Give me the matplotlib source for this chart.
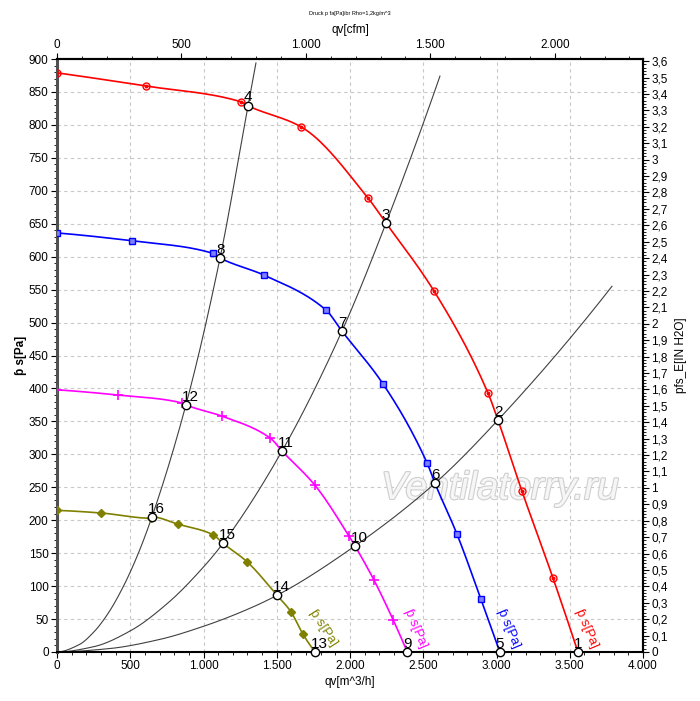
import numpy as np
import matplotlib
matplotlib.use("Agg")
import matplotlib.pyplot as plt
import matplotlib.patheffects as pe
from matplotlib.ticker import FuncFormatter, MultipleLocator

plt.rcParams['font.family'] = ['Liberation Sans', 'DejaVu Sans']

# ---------------- data ----------------
# fan curves: measured markers (flow m^3/h, pressure Pa)
red_mx = [0, 607, 1256, 1666, 2123, 2573, 2942, 3174, 3386]
red_my = [879, 859, 835, 797, 689, 548, 393, 244, 112]
blue_mx = [0, 512, 1065, 1413, 1836, 2225, 2526, 2730, 2894]
blue_my = [636, 624, 605, 572, 519, 407, 287, 179, 80]
mag_mx = [0, 416, 853, 1126, 1454, 1761, 1993, 2164, 2294]
mag_my = [398, 390, 378, 358, 325, 253, 176, 109, 49]
oli_mx = [0, 300, 642, 826, 1065, 1297, 1597, 1679]
oli_my = [215, 211, 203, 194, 178, 137, 61, 27]

# operating points (number, flow, pressure)
op_num = [1, 2, 3, 4, 5, 6, 7, 8, 9, 10, 11, 12, 13, 14, 15, 16]
op_x = [3556, 3010, 2246, 1304, 3023, 2580, 1945, 1113, 2391, 2034, 1536, 880, 1762, 1502, 1133, 648]
op_y = [0, 352, 651, 829, 0, 256, 487, 598, 0, 161, 305, 375, 0, 86, 165, 205]

# system resistance curves
sysA_x = [0, 150, 250, 350, 454, 550, 648, 880, 1113, 1304, 1358]
sysA_y = [0, 11, 30, 59, 100, 147, 205, 375, 598, 829, 894]
sysB_x = [0, 250, 500, 750, 1000, 1133, 1536, 1945, 2246, 2614]
sysB_y = [0, 8, 32, 73, 129, 165, 305, 487, 651, 874]
sysC_x = [0, 350, 700, 1000, 1250, 1502, 2034, 2580, 3010, 3788]
sysC_y = [0, 5, 19, 39, 60, 86, 161, 256, 352, 555]

curve_label = "ƥ s[Pa]"
PA_PER_INH2O = 249.089
M3H_PER_CFM = 1.69901


def pchip(x, y, n=400):
    x = np.asarray(x, float)
    y = np.asarray(y, float)
    h = np.diff(x)
    d = np.diff(y) / h
    m = np.zeros_like(y)
    for k in range(1, len(x) - 1):
        if d[k - 1] * d[k] > 0:
            w1 = 2 * h[k] + h[k - 1]
            w2 = h[k] + 2 * h[k - 1]
            m[k] = (w1 + w2) / (w1 / d[k - 1] + w2 / d[k])
    m[0] = ((2 * h[0] + h[1]) * d[0] - h[0] * d[1]) / (h[0] + h[1])
    if np.sign(m[0]) != np.sign(d[0]):
        m[0] = 0
    m[-1] = ((2 * h[-1] + h[-2]) * d[-1] - h[-1] * d[-2]) / (h[-1] + h[-2])
    if np.sign(m[-1]) != np.sign(d[-1]):
        m[-1] = 0
    xs = np.linspace(x[0], x[-1], n)
    idx = np.clip(np.searchsorted(x, xs) - 1, 0, len(x) - 2)
    t = (xs - x[idx]) / h[idx]
    h00 = 2 * t ** 3 - 3 * t ** 2 + 1
    h10 = t ** 3 - 2 * t ** 2 + t
    h01 = -2 * t ** 3 + 3 * t ** 2
    h11 = t ** 3 - t ** 2
    ys = h00 * y[idx] + h10 * h[idx] * m[idx] + h01 * y[idx + 1] + h11 * h[idx] * m[idx + 1]
    return xs, ys


def merged(mx, my, ops):
    xs = list(mx) + [op_x[op_num.index(k)] for k in ops]
    ys = list(my) + [op_y[op_num.index(k)] for k in ops]
    order = np.argsort(xs)
    return np.array(xs)[order], np.array(ys)[order]


fig = plt.figure(figsize=(7.0, 7.01), dpi=100)
ax = fig.add_axes([57 / 700, 49 / 701, 586 / 700, 593 / 701])
ax.set_xlim(0, 4000)
ax.set_ylim(0, 900)

ax.grid(True, color='#c8c8c8', linestyle=(0, (3, 3)), linewidth=0.8)
ax.set_axisbelow(True)

# watermark
ax.text(0.553, 0.275, "Ventilatorry.ru", transform=ax.transAxes, fontsize=28,
        style='italic', color='#f6f6f6', ha='left', va='center', zorder=1,
        path_effects=[pe.withStroke(linewidth=1.6, foreground='#cfcfcf')])

# system curves
for sx, sy in [(sysA_x, sysA_y), (sysB_x, sysB_y), (sysC_x, sysC_y)]:
    cx, cy = pchip(sx, sy)
    ax.plot(cx, cy, color='#404040', lw=0.8, zorder=2)

fans = [
    (red_mx, red_my, [4, 3, 2, 1], '#ff0000'),
    (blue_mx, blue_my, [8, 7, 6, 5], '#0000ff'),
    (mag_mx, mag_my, [12, 11, 10, 9], '#ff00ff'),
    (oli_mx, oli_my, [16, 15, 14, 13], '#808000'),
]
for mx, my, ops, col in fans:
    lx, ly = merged(mx, my, ops)
    cx, cy = pchip(lx, ly)
    ax.plot(cx, cy, color=col, lw=1.2, zorder=3)

# markers
ax.plot(red_mx, red_my, 'o', ms=5, mfc='none', mec='#ff0000', mew=1.0, zorder=4)
ax.plot(red_mx, red_my, 'o', ms=1.8, mfc='#ff0000', mec='#ff0000', zorder=4)
ax.plot(blue_mx, blue_my, 's', ms=5, mfc='#8080ff', mec='#0000ff', mew=1.0, zorder=4)
ax.plot(mag_mx, mag_my, '+', ms=7, mec='#ff00ff', mew=1.2, zorder=4)
ax.plot(oli_mx, oli_my, 'D', ms=4, mfc='#808000', mec='#808000', zorder=4)

# operating points
ax.plot(op_x, op_y, 'o', ms=6, mfc='white', mec='black', mew=1.0, zorder=6, clip_on=False)
for n, x, y in zip(op_num, op_x, op_y):
    ax.annotate(str(n), (x, y), xytext=(-3, 1), textcoords='offset points',
                ha='left', va='bottom', fontsize=11, color='black', zorder=7)

# curve labels near the x-axis
for mx, my, ops, col in fans:
    zx = op_x[op_num.index(ops[-1])]
    rot = -57 if col == '#808000' else -67
    ax.annotate(curve_label, (zx, 0), xytext=(6, 17), textcoords='offset points',
                ha='center', va='center', rotation=rot, rotation_mode='anchor',
                fontsize=9.5, color=col, zorder=5)


def thousands(v, pos):
    return f"{int(round(v)):,}".replace(',', '.')


def decomma(v, pos):
    s = f"{v:.1f}"
    if s.endswith('.0'):
        s = s[:-2]
    return s.replace('.', ',')


ax.xaxis.set_major_locator(MultipleLocator(500))
ax.xaxis.set_minor_locator(MultipleLocator(100))
ax.xaxis.set_major_formatter(FuncFormatter(thousands))
ax.yaxis.set_major_locator(MultipleLocator(50))
ax.yaxis.set_minor_locator(MultipleLocator(10))
ax.tick_params(axis='both', which='major', labelsize=8.5, length=4, width=0.8, pad=2)
ax.tick_params(axis='both', which='minor', length=2, width=0.6)
ax.set_xlabel("qv[m^3/h]", fontsize=8.5, labelpad=3)
ax.set_ylabel(curve_label, fontsize=8.5, labelpad=1, fontweight='bold')

for side in ['top', 'right', 'bottom']:
    ax.spines[side].set_linewidth(1.5)
    ax.spines[side].set_color('black')
ax.spines['left'].set_linewidth(2.2)
ax.spines['left'].set_color('#505050')

# top axis in cfm
top = ax.secondary_xaxis('top', functions=(lambda q: q / M3H_PER_CFM, lambda c: c * M3H_PER_CFM))
top.xaxis.set_major_locator(MultipleLocator(500))
top.xaxis.set_minor_locator(MultipleLocator(100))
top.xaxis.set_major_formatter(FuncFormatter(thousands))
top.tick_params(axis='x', which='major', labelsize=8.5, length=4, width=0.8, pad=2)
top.tick_params(axis='x', which='minor', length=2, width=0.6)
top.set_xlabel("qv[cfm]", fontsize=8.5, labelpad=4)
top.spines['top'].set_linewidth(1.5)

# right axis in inch H2O
right = ax.secondary_yaxis('right', functions=(lambda p: p / PA_PER_INH2O, lambda i: i * PA_PER_INH2O))
right.yaxis.set_major_locator(MultipleLocator(0.1))
right.yaxis.set_minor_locator(MultipleLocator(0.02))
right.yaxis.set_major_formatter(FuncFormatter(decomma))
right.tick_params(axis='y', which='major', labelsize=8.5, length=4, width=0.8, pad=2)
right.tick_params(axis='y', which='minor', length=2, width=0.6)
right.set_ylabel("pfs_E[IN H2O]", fontsize=8.5, labelpad=5)
right.spines['right'].set_linewidth(1.5)

fig.text(0.5, 1 - 14 / 701, "Druck p fa[Pa]/br Rho=1,2kg/m^3", fontsize=4,
         ha='center', va='center')

fig.savefig("out.png", dpi=100)
